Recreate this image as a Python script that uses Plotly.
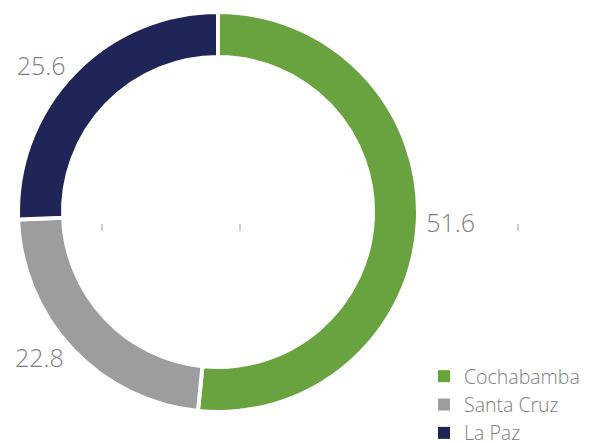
import plotly.graph_objects as go

categories = ["Cochabamba", "Santa Cruz", "La Paz"]
values = [51.6, 22.8, 25.6]
colors = ["#68a33f", "#9b9d9f", "#1f2557"]
text_labels = ["51.6", "22.8", "25.6"]

W, H = 589, 443
cx, cy, R = 218, 212, 200
FONT = "Open Sans"

fig = go.Figure(go.Pie(
    labels=categories,
    values=values,
    text=text_labels,
    textinfo="text",
    textposition="outside",
    hole=0.775,
    sort=False,
    direction="clockwise",
    rotation=0,
    showlegend=False,
    marker=dict(colors=colors, line=dict(color="white", width=4)),
    outsidetextfont=dict(family=FONT, size=25, color="#808080", weight=300),
    domain=dict(x=[(cx - R) / W, (cx + R) / W], y=[1 - (cy + R) / H, 1 - (cy - R) / H]),
    hoverinfo="label+value",
))

# legend entries (square swatches)
for name, col in zip(categories, colors):
    fig.add_trace(go.Scatter(x=[None], y=[None], mode="markers", name=name,
                             marker=dict(symbol="square", size=12, color=col),
                             hoverinfo="skip"))

# small decorative tick marks
for xt in [102, 240, 518]:
    fig.add_shape(type="line", xref="paper", yref="paper",
                  x0=xt / W, x1=xt / W, y0=1 - 224 / H, y1=1 - 231 / H,
                  line=dict(color="#cfcfcf", width=2))

fig.add_annotation(text="Fuente: Elaboración propia", xref="paper", yref="paper",
                   x=145 / W, y=1 - 440 / H, xanchor="left", yanchor="top",
                   showarrow=False, font=dict(family=FONT, size=13, color="#777777"))

fig.update_layout(
    width=W, height=H,
    margin=dict(l=0, r=0, t=0, b=0, autoexpand=False),
    paper_bgcolor="white",
    plot_bgcolor="white",
    xaxis=dict(visible=False),
    yaxis=dict(visible=False),
    showlegend=True,
    legend=dict(x=424 / W, y=1 - 357 / H, xanchor="left", yanchor="top",
                font=dict(family=FONT, size=19.5, color="#808080", weight=300),
                bgcolor="rgba(0,0,0,0)", itemclick=False),
)

fig.write_html("out.html")
